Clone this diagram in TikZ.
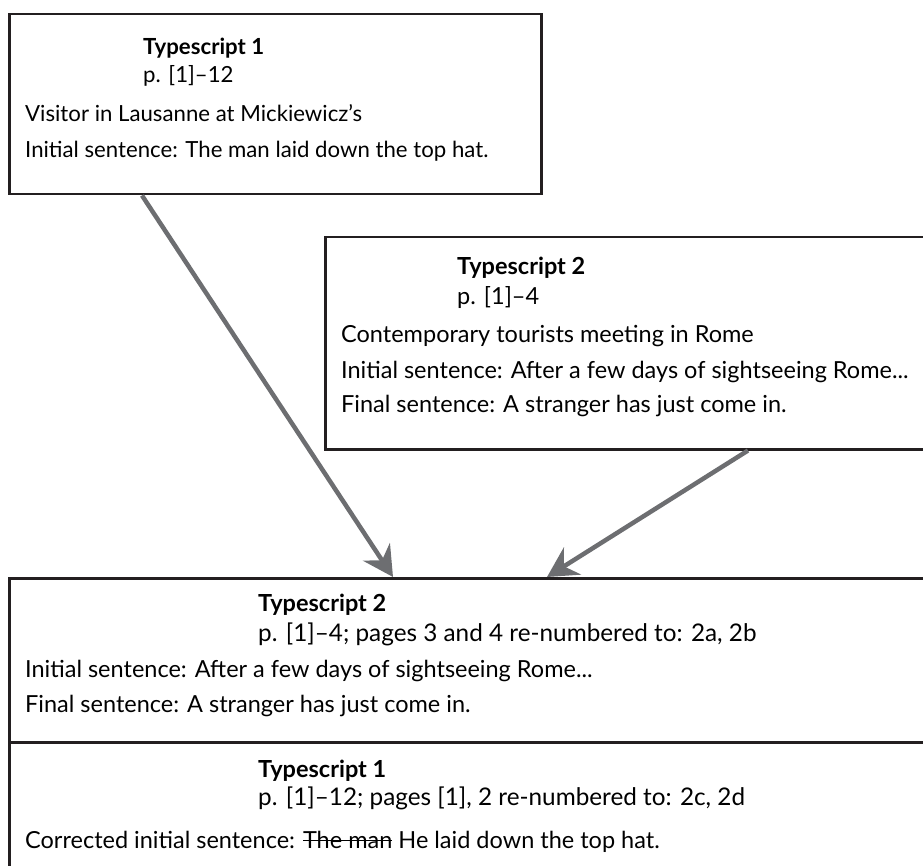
\documentclass[tikz,border=0pt]{standalone}
\usepackage{fontspec}
\setmainfont{Lato}
\usetikzlibrary{arrows.meta}
\definecolor{boxline}{HTML}{231F20}
\definecolor{arrowgray}{HTML}{6D6E71}
\newlength\strikewd
\newcommand\strikeout[1]{\settowidth\strikewd{#1}\rlap{\rule[0.3em]{\strikewd}{1.4pt}}#1}
\tikzset{
  txt/.style={anchor=base west, inner sep=0pt, font=\fontsize{23.5}{28}\selectfont},
  ttl/.style={txt, font=\fontsize{23.5}{28}\selectfont\bfseries},
  txtsm/.style={txt, font=\fontsize{22.2}{26}\selectfont},
  ttlsm/.style={txt, font=\fontsize{22.2}{26}\selectfont\bfseries},
  txtlg/.style={txt, font=\fontsize{24.3}{28}\selectfont},
  frame/.style={draw=boxline, line width=2.5pt, anchor=north west, inner sep=0pt},
  link/.style={draw=arrowgray, line width=4.5pt, -{Stealth[length=30pt,width=32pt,inset=10pt]}}
}
\begin{document}
\begin{tikzpicture}[x=1pt,y=-1pt]
  \useasboundingbox (0,0) rectangle (923,866);
  \clip (0,0) rectangle (923,866);
  %% boxes
  \node[frame, minimum width=532pt, minimum height=180pt] (ts1) at (8,13) {};
  \node[frame, minimum width=640pt, minimum height=212pt] (ts2) at (324,236) {};
  \node[frame, minimum width=940pt, minimum height=164pt] (ts2b) at (8,577) {};
  \node[frame, minimum width=940pt, minimum height=200pt] (ts1b) at (8,741) {};
  %% first typescript
  \node[ttlsm] (ts1head) at (143,55) {Typescript 1};
  \node[txtsm] (ts1pages) at (143,83) {p. [1]–12};
  \node[txtsm] (ts1topic) at (25,122) {Visitor in Lausanne at Mickiewicz's};
  \node[txtsm] (ts1init) at (25,158) {Initial sentence: The man laid down the top hat.};
  %% second typescript
  \node[ttl] (ts2head) at (457,275) {Typescript 2};
  \node[txt] (ts2pages) at (457,305) {p. [1]–4};
  \node[txt] (ts2topic) at (341,342) {Contemporary tourists meeting in Rome};
  \node[txt] (ts2init) at (341,378) {Initial sentence: After a few days of sightseeing Rome...};
  \node[txt] (ts2final) at (341,412) {Final sentence: A stranger has just come in.};
  %% merged version
  \node[ttl] (ts2bhead) at (258,611) {Typescript 2};
  \node[txtlg] (ts2bpages) at (258,641) {p. [1]–4; pages 3 and 4 re-numbered to: 2a, 2b};
  \node[txt] (ts2binit) at (25,677) {Initial sentence: After a few days of sightseeing Rome...};
  \node[txt] (ts2bfinal) at (25,712) {Final sentence: A stranger has just come in.};
  \node[ttl] (ts1bhead) at (258,777) {Typescript 1};
  \node[txtlg] (ts1bpages) at (258,805) {p. [1]–12; pages [1], 2 re-numbered to: 2c, 2d};
  \node[txt] (ts1binit) at (25,848) {Corrected initial sentence: \strikeout{The man} He laid down the top hat.};
  %% arrows
  \draw[link] ([xshift=134pt]ts1.south west) -- ([xshift=385pt]ts2b.north west);
  \draw[link] ([xshift=424pt]ts2.south west) -- ([xshift=539pt]ts2b.north west);
\end{tikzpicture}
\end{document}
